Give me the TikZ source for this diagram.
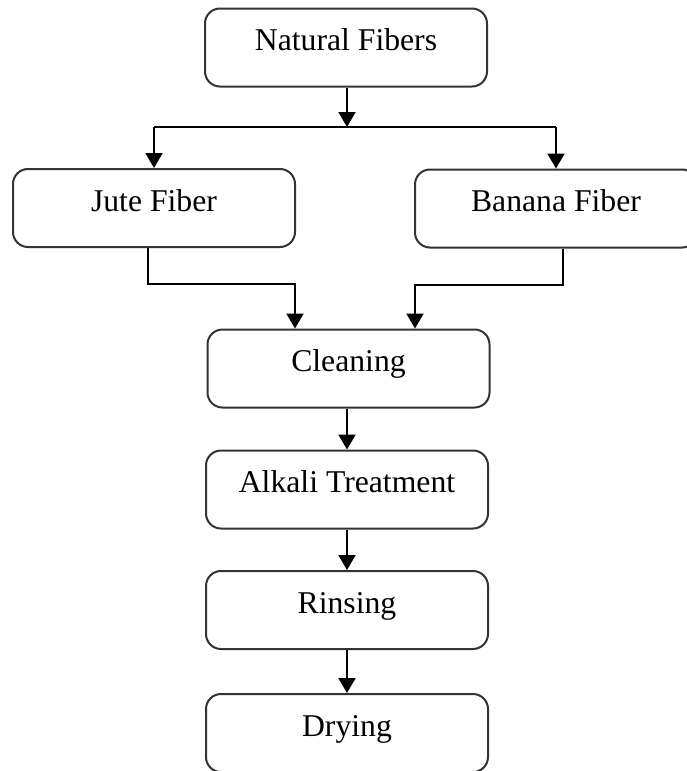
\documentclass[tikz,border=0pt]{standalone}
\usepackage{fontspec}
\setmainfont{Liberation Serif}
\usetikzlibrary{arrows.meta}
\tikzset{
  stepbox/.style={draw=black!80, line width=2pt, rounded corners=15pt,
    minimum width=282pt, minimum height=78pt, inner sep=0pt,
    text height=22pt, text depth=16pt,
    font=\fontsize{31.7}{38}\selectfont},
  arr/.style={draw=black, line width=2pt, -{Triangle[width=17pt,length=15pt]}},
  link/.style={draw=black, line width=2pt}
}
\begin{document}
\begin{tikzpicture}[x=1pt, y=-1pt]
  \useasboundingbox (0,0) rectangle (686,771);

  % process boxes
  \node[stepbox] (nat)    at (346,47.5)  {Natural Fibers};
  \node[stepbox] (jute)   at (154,208)   {Jute Fiber};
  \node[stepbox] (banana) at (556,208.5) {Banana Fiber};
  \node[stepbox] (clean)  at (348.5,368.5) {Cleaning};
  \node[stepbox] (alkali) at (347,489.5) {Alkali Treatment};
  \node[stepbox] (rinse)  at (347,610)   {Rinsing};
  \node[stepbox] (dry)    at (347,733)   {Drying};

  % split into the two fibre types
  \coordinate (split) at (347,127);
  \coordinate (splitL) at (154,127);
  \coordinate (splitR) at (556,127);
  \draw[arr] (nat.south -| split) -- (split);
  \draw[link] (splitL) -- (splitR);
  \draw[arr] (splitL) -- (jute.north);
  \draw[arr] (splitR) -- (banana.north);

  % both fibres go to cleaning
  \draw[arr] ([xshift=-6pt]jute.south) -- ++(0,36) -| ([xshift=-53.5pt]clean.north);
  \draw[arr] ([xshift=7pt]banana.south) -- ++(0,36) -| ([xshift=66.5pt]clean.north);

  % treatment chain
  \draw[arr] (clean.south -| alkali.north) -- (alkali.north);
  \draw[arr] (alkali.south) -- (rinse.north);
  \draw[arr] (rinse.south) -- (dry.north);
\end{tikzpicture}
\end{document}
